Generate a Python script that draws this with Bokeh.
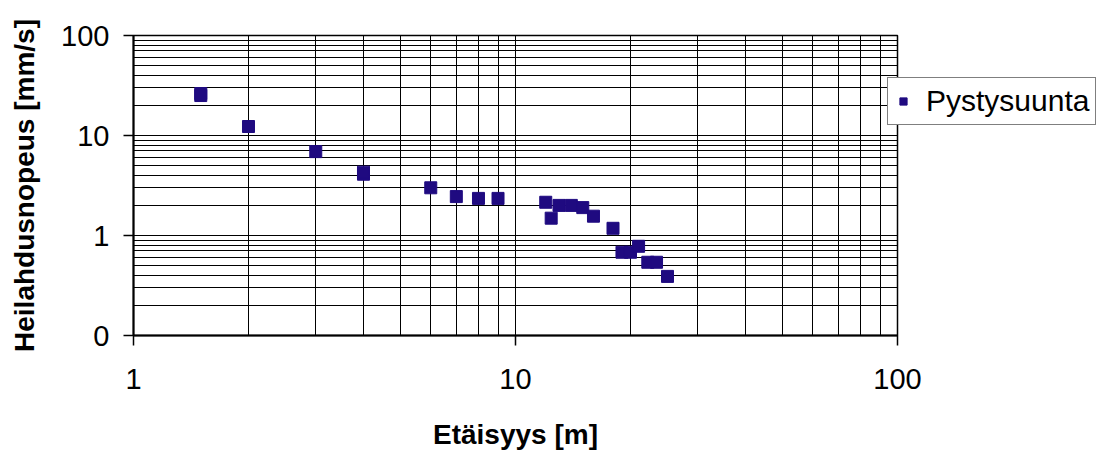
from bokeh.plotting import figure
from bokeh.models import FixedTicker, Legend, LegendItem, ColumnDataSource
from bokeh.embed import file_html
from bokeh.resources import INLINE

# data
distance = [1.5, 1.5, 2, 3, 4, 4, 6, 7, 8, 9, 12, 12.4, 13, 14, 15, 16, 18, 19, 20, 21, 22.2, 23.4, 25]
velocity = [25.1, 26.3, 12.3, 6.9, 4.1, 4.3, 3.0, 2.45, 2.35, 2.35, 2.15, 1.49, 2.0, 2.0, 1.9, 1.56, 1.18, 0.68, 0.68, 0.78, 0.54, 0.54, 0.39]
series_name = "Pystysuunta"
x_major = [1, 10, 100]
x_minor = [2, 3, 4, 5, 6, 7, 8, 9, 20, 30, 40, 50, 60, 70, 80, 90]
y_major = [0.1, 1, 10, 100]
y_minor = [0.2, 0.3, 0.4, 0.5, 0.6, 0.7, 0.8, 0.9, 2, 3, 4, 5, 6, 7, 8, 9, 20, 30, 40, 50, 60, 70, 80, 90]
y_labels = {0.1: "0", 1: "1", 10: "10", 100: "100"}
x_title = "Etäisyys [m]"
y_title = "Heilahdusnopeus [mm/s]"

FONT = "Liberation Sans"
COLOR = "#1f0a80"

p = figure(width=1090, height=454, frame_width=764, frame_height=300,
           x_axis_type="log", y_axis_type="log",
           x_range=(1, 100), y_range=(0.1, 100),
           output_backend="svg", toolbar_location=None,
           min_border_left=133, min_border_right=193, min_border_top=35, min_border_bottom=119)
p.background_fill_color = "white"
p.border_fill_color = "white"
p.outline_line_color = "black"
p.outline_line_width = 1.5

src = ColumnDataSource(dict(x=distance, y=velocity))
r = p.scatter("x", "y", source=src, marker="square", size=12,
              fill_color=COLOR, line_color=COLOR)

for ax, major, minor in ((p.xaxis[0], x_major, x_minor), (p.yaxis[0], y_major, y_minor)):
    ax.ticker = FixedTicker(ticks=major, minor_ticks=minor)
    ax.axis_line_color = "black"
    ax.axis_line_width = 2
    ax.major_tick_line_color = "black"
    ax.major_tick_line_width = 1.5
    ax.major_tick_in = 0
    ax.major_tick_out = 10
    ax.minor_tick_in = 0
    ax.minor_tick_out = 0
    ax.major_label_text_font = FONT
    ax.major_label_text_font_size = "29px"
    ax.major_label_text_color = "black"
    ax.axis_label_text_font = FONT
    ax.axis_label_text_font_size = "28px"
    ax.axis_label_text_font_style = "bold"
    ax.axis_label_text_color = "black"

p.xaxis[0].major_label_overrides = {1: "1", 10: "10", 100: "100"}
p.yaxis[0].major_label_overrides = y_labels
p.xaxis[0].axis_label = x_title
p.yaxis[0].axis_label = y_title
p.xaxis[0].major_label_standoff = 23
p.xaxis[0].axis_label_standoff = 27
p.yaxis[0].major_label_standoff = 14
p.yaxis[0].axis_label_standoff = 18

for g in (p.xgrid[0], p.ygrid[0]):
    g.grid_line_color = "black"
    g.grid_line_width = 1
    g.minor_grid_line_color = "black"
    g.minor_grid_line_width = 1

lg = Legend(items=[LegendItem(label=series_name, renderers=[r])],
            location=(-10, 210), orientation="vertical")
lg.label_text_font = FONT
lg.label_text_font_size = "30px"
lg.label_text_color = "black"
lg.glyph_width = 18
lg.glyph_height = 18
lg.label_standoff = 14
lg.padding = 6
lg.margin = 0
lg.spacing = 0
lg.background_fill_color = "white"
lg.background_fill_alpha = 1
lg.border_line_color = "black"
lg.border_line_width = 1
p.add_layout(lg, "right")

open("out.html", "w").write(file_html(p, INLINE))
